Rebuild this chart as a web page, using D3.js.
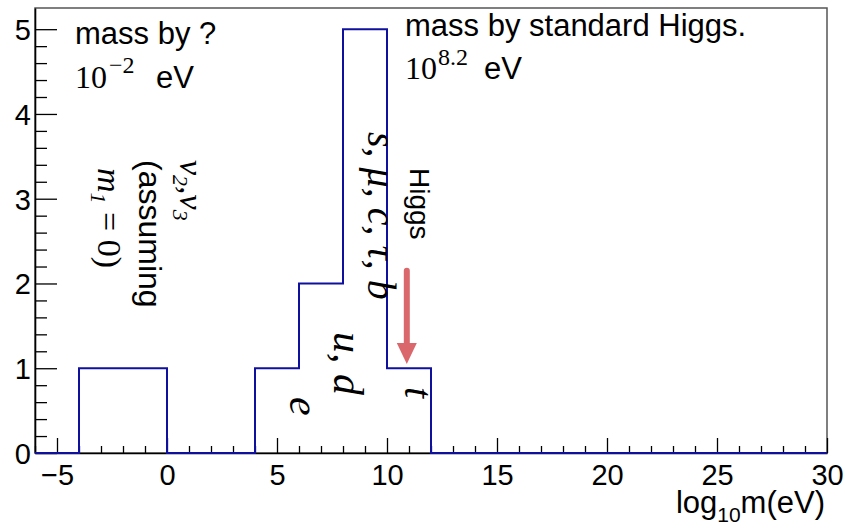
<!DOCTYPE html>
<html>
<head>
<meta charset="utf-8">
<script src="https://cdn.jsdelivr.net/npm/d3@7"></script>
<style>
  body { margin: 0; background: #fff; }
  text { font-family: "Liberation Sans", Arial, sans-serif; fill: #000; }
  .serif { font-family: "Liberation Serif", "Times New Roman", serif; }
  .math { font-family: "Liberation Serif", "Times New Roman", serif; font-style: italic; }
</style>
</head>
<body>
<svg id="chart" width="845" height="531"></svg>
<script>
// histogram: low edge of each bin (width 2) and its count
var binLow = [-6, -4, -2, 0, 2, 4, 6, 8, 10, 12, 14, 16, 18, 20, 22, 24, 26, 28]
var counts = [0, 1, 1, 0, 0, 1, 2, 5, 1, 0, 0, 0, 0, 0, 0, 0, 0, 0]
var binWidth = 2
var xMajor = [-5, 0, 5, 10, 15, 20, 25, 30]
var yMajor = [0, 1, 2, 3, 4, 5]
var xDomain = [-6, 30]
var yDomain = [0, 5.25]

var margin = { left: 35, top: 8, right: 18, bottom: 78 }
var width = 845 - margin.left - margin.right
var height = 531 - margin.top - margin.bottom

var svg = d3.select('#chart')
var g = svg.append('g')
  .attr('transform', 'translate(' + margin.left + ',' + margin.top + ')')

var x = d3.scaleLinear().domain(xDomain).range([0, width])
var y = d3.scaleLinear().domain(yDomain).range([height, 0])

// frame
g.append('rect')
  .attr('width', width).attr('height', height)
  .attr('fill', 'none').attr('stroke', '#555').attr('stroke-width', 1.5)

// minor ticks
var xMinor = d3.range(-6, 31, 1).filter(function(v) { return v % 5 !== 0 })
var yMinor = d3.range(0, 26).map(function(i) { return i / 5 }).filter(function(v) { return v % 1 !== 0 })

var xMinorAxis = g.append('g')
  .attr('transform', 'translate(0,' + height + ')')
  .call(d3.axisBottom(x).tickValues(xMinor).tickSize(-7).tickFormat(''))
xMinorAxis.select('.domain').remove()

var yMinorAxis = g.append('g')
  .call(d3.axisLeft(y).tickValues(yMinor).tickSize(-12).tickFormat(''))
yMinorAxis.select('.domain').remove()

var xAxis = g.append('g')
  .attr('transform', 'translate(0,' + height + ')')
  .call(d3.axisBottom(x).tickValues(xMajor).tickSize(-15).tickSizeOuter(0).tickPadding(11))
var yAxis = g.append('g')
  .call(d3.axisLeft(y).tickValues(yMajor).tickFormat(d3.format('d'))
    .tickSize(-22).tickSizeOuter(0).tickPadding(4))

svg.selectAll('.tick line').attr('stroke', '#000').attr('stroke-width', 1.3)
svg.selectAll('.domain').attr('stroke', '#000').attr('stroke-width', 1.6)
xAxis.selectAll('text').attr('font-size', 29).attr('font-family', '"Liberation Sans", Arial, sans-serif')
yAxis.selectAll('text').attr('font-size', 29).attr('font-family', '"Liberation Sans", Arial, sans-serif')
  .attr('dy', '0.36em')

// histogram outline
var pts = binLow.map(function(lo, i) { return [lo, counts[i]] })
pts.push([binLow[binLow.length - 1] + binWidth, counts[counts.length - 1]])
var line = d3.line()
  .x(function(d) { return x(d[0]) })
  .y(function(d) { return y(d[1]) })
  .curve(d3.curveStepAfter)
g.append('path')
  .datum(pts)
  .attr('d', line)
  .attr('fill', 'none')
  .attr('stroke', '#10109e')
  .attr('stroke-width', 2)

// axis title
var title = svg.append('text')
  .attr('x', 825).attr('y', 513)
  .attr('text-anchor', 'end')
  .attr('font-size', 31)
title.append('tspan').text('log')
title.append('tspan').attr('font-size', 21).attr('dy', 9).text('10')
title.append('tspan').attr('dy', -9).text('m(eV)')

// top notes
svg.append('text').attr('x', 75).attr('y', 44).attr('font-size', 31).text('mass by ?')
var n1 = svg.append('text').attr('x', 75).attr('y', 88).attr('font-size', 32)
n1.append('tspan').attr('class', 'serif').text('10')
n1.append('tspan').attr('class', 'serif').attr('font-size', 24).attr('dx', 2).attr('dy', -15).text('\u22122')
n1.append('tspan').attr('x', 156).attr('dy', 15).attr('font-size', 31).text('eV')

svg.append('text').attr('x', 405).attr('y', 36).attr('font-size', 31).text('mass by standard Higgs.')
var n2 = svg.append('text').attr('x', 405).attr('y', 79).attr('font-size', 32)
n2.append('tspan').attr('class', 'serif').text('10')
n2.append('tspan').attr('class', 'serif').attr('font-size', 24).attr('dx', 1).attr('dy', -14).text('8.2')
n2.append('tspan').attr('x', 484).attr('dy', 14).attr('font-size', 31).text('eV')

// vertical labels, rotated to read top-down
function vtext(px, py, size, cls) {
  var t = svg.append('text')
    .attr('transform', 'translate(' + px + ',' + py + ') rotate(90)')
    .attr('font-size', size)
  if (cls) t.attr('class', cls)
  return t
}

var nu = vtext(180, 160, 34, 'math')
nu.append('tspan').text('\u03bd')
nu.append('tspan').attr('font-size', 22).attr('dy', 7).text('2')
nu.append('tspan').attr('dy', -7).text(',\u03bd')
nu.append('tspan').attr('font-size', 22).attr('dy', 7).text('3')

vtext(139, 160, 32).text('(assuming')

var m1 = vtext(98, 168, 34, 'math')
m1.append('tspan').text('m')
m1.append('tspan').attr('font-size', 22).attr('dy', 7).text('1')
m1.append('tspan').attr('dy', -7).attr('font-style', 'normal').text(' = 0)')

vtext(368, 132, 40, 'math').text('s, \u03bc, c, \u03c4, b')
vtext(334, 332, 42, 'math').text('u, d')
vtext(290, 397, 42, 'math').text('e')
vtext(405, 387, 40, 'math').text('t')
vtext(410, 168, 28).text('Higgs')

// arrow pointing at the Higgs mass bin
var arrowX = 10.9, arrowTop = 2.15, arrowTip = 1.05
var ax = margin.left + x(arrowX)
var ay0 = margin.top + y(arrowTop)
var ay1 = margin.top + y(arrowTip)
svg.append('line')
  .attr('x1', ax).attr('x2', ax)
  .attr('y1', ay0).attr('y2', ay1 - 16)
  .attr('stroke', '#d9676b').attr('stroke-width', 6).attr('stroke-linecap', 'round')
svg.append('path')
  .attr('d', 'M' + (ax - 10) + ',' + (ay1 - 21) + 'L' + (ax + 10) + ',' + (ay1 - 21) + 'L' + ax + ',' + ay1 + 'Z')
  .attr('fill', '#d9676b')
</script>
</body>
</html>
